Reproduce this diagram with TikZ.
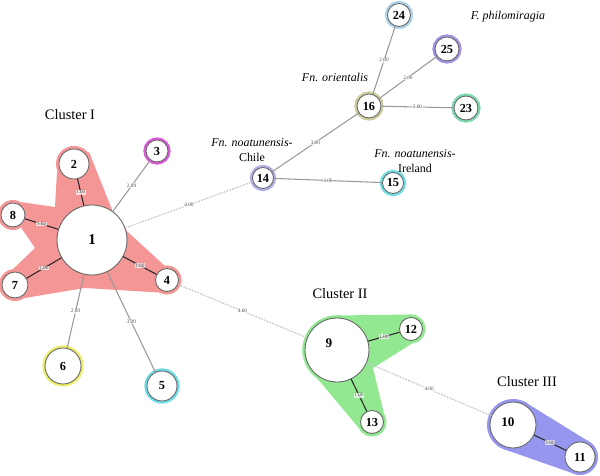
\documentclass[tikz,border=0pt]{standalone}
\usepackage{fontspec}
\setmainfont{Liberation Serif}
\definecolor{hullI}{RGB}{245,150,150}
\definecolor{hullII}{RGB}{145,232,145}
\definecolor{hullIII}{RGB}{150,150,238}
\definecolor{ringM}{RGB}{215,90,215}
\definecolor{ringY}{RGB}{238,238,110}
\definecolor{ringC}{RGB}{110,220,230}
\definecolor{ringL}{RGB}{175,175,230}
\definecolor{ringK}{RGB}{205,205,155}
\definecolor{ringG}{RGB}{125,215,175}
\definecolor{ringP}{RGB}{165,145,225}
\definecolor{ringB}{RGB}{175,210,235}
\begin{document}
\begin{tikzpicture}[x=0.02cm, y=-0.02cm,
	hap/.style={circle, draw=black!60, fill=white, line width=0.5pt, inner sep=0pt, minimum size=#1*0.02cm, font=\bfseries\fontsize{7}{7}\selectfont},
	ring/.style={preaction={draw=#1, line width=3pt}},
	num/.style={font=\bfseries\fontsize{7.5}{7.5}\selectfont, inner sep=0pt},
	one/.style={draw=black!85, line width=0.6pt},
	two/.style={draw=black!40, line width=0.6pt},
	far/.style={draw=black!22, line width=0.7pt, dash pattern=on 1pt off 0.7pt},
	wt/.style={midway, fill=white, fill opacity=0.7, text opacity=1, inner sep=0.3pt, text=black!65, font=\fontsize{3}{3}\selectfont},
	title/.style={font=\fontsize{8.2}{9}\selectfont},
	taxon/.style={font=\fontsize{6.8}{8.5}\selectfont, align=center}]
	\useasboundingbox (0,0) rectangle (600,476);
	\fill[hullI] (89,152) -- (117,222) -- (166,267) -- (167,293) -- (85,288) -- (13,300) -- (10,272) -- (35,248) -- (22,229) -- (20,202) -- (55,207) -- (57,172) -- cycle;
	\fill[hullI] (74,164) circle(18);
	\fill[hullI] (13,215) circle(15);
	\fill[hullI] (15,285) circle(16);
	\fill[hullI] (167,280) circle(14.5);
	\fill[hullII] (337,315.5) -- (411,314.5) -- (424,336) -- (373,368) -- (385,418) -- (363,433) -- (306,365) -- cycle;
	\fill[hullII] (337,350) circle(34.5);
	\fill[hullII] (411,329) circle(14.5);
	\fill[hullII] (372,422) circle(14.5);
	\fill[hullIII] (524,401.5) -- (588,441) -- (572,473) -- (502,448.5) -- cycle;
	\fill[hullIII] (513,425) circle(26);
	\fill[hullIII] (580,457) circle(18);
	\node[hap=70, font=\bfseries\fontsize{8.5}{8.5}\selectfont] (N1) at (92,240) {1};
	\node[hap=30, ring=hullI] (N2) at (74,164) {2};
	\node[hap=22, ring=ringM] (N3) at (157,151) {3};
	\node[hap=23, ring=hullI] (N4) at (167,280) {4};
	\node[hap=30, ring=ringC] (N5) at (162,386) {5};
	\node[hap=36, ring=ringY] (N6) at (63,366) {6};
	\node[hap=26, ring=hullI] (N7) at (15,285) {7};
	\node[hap=24, ring=hullI] (N8) at (13,215) {8};
	\node[hap=64, ring=hullII] (N9) at (337,350) {};
	\node[num] (L9) at ([shift={(-8,-7)}]N9.center) {9};
	\node[hap=46, ring=hullIII] (N10) at (513,425) {};
	\node[num] (L10) at ([shift={(-5,-3)}]N10.center) {10};
	\node[hap=30, ring=hullIII] (N11) at (580,457) {11};
	\node[hap=23, ring=hullII] (N12) at (411,329) {12};
	\node[hap=23, ring=hullII] (N13) at (372,422) {13};
	\node[hap=21, ring=ringL] (N14) at (263,178) {14};
	\node[hap=21, ring=ringC] (N15) at (393,183) {15};
	\node[hap=24, ring=ringK] (N16) at (369,106) {16};
	\node[hap=24, ring=ringG] (N23) at (466,108) {23};
	\node[hap=23, ring=ringB] (N24) at (399,15) {24};
	\node[hap=24, ring=ringP] (N25) at (447,49) {25};
	\draw[one] (N1) -- node[wt] {1.00} (N2);
	\draw[one] (N1) -- node[wt] {1.00} (N8);
	\draw[one] (N1) -- node[wt] {1.00} (N7);
	\draw[one] (N1) -- node[wt] {1.00} (N4);
	\draw[two] (N1) -- node[wt] {2.00} (N3);
	\draw[two] (N1) -- node[wt] {2.00} (N6);
	\draw[two] (N1) -- node[wt] {3.00} (N5);
	\draw[far] (N1) -- node[wt] {4.00} (N14);
	\draw[far] (N4) -- node[wt] {4.00} (N9);
	\draw[two] (N14) -- node[wt] {3.00} (N16);
	\draw[two] (N14) -- node[wt] {3.00} (N15);
	\draw[two] (N16) -- node[wt] {2.00} (N24);
	\draw[two] (N16) -- node[wt] {2.00} (N25);
	\draw[two] (N16) -- node[wt] {2.00} (N23);
	\draw[one] (N9) -- node[wt] {1.00} (N12);
	\draw[one] (N9) -- node[wt] {1.00} (N13);
	\draw[far] (N9) -- node[wt] {4.00} (N10);
	\draw[one] (N10) -- node[wt] {1.00} (N11);
	\node[title] (CI) at (70,115) {Cluster I};
	\node[title] (CII) at (340,294) {Cluster II};
	\node[title] (CIII) at (527,382) {Cluster III};
	\node[taxon] (Tor) at (335,77) {\textit{Fn. orientalis}};
	\node[taxon] (Tph) at (508,17) {\textit{F. philomiragia}};
	\node[taxon] (Tch) at (252,150) {\textit{Fn. noatunensis-}\\Chile};
	\node[taxon] (Tir) at (415,161) {\textit{Fn. noatunensis-}\\Ireland};
\end{tikzpicture}
\end{document}
